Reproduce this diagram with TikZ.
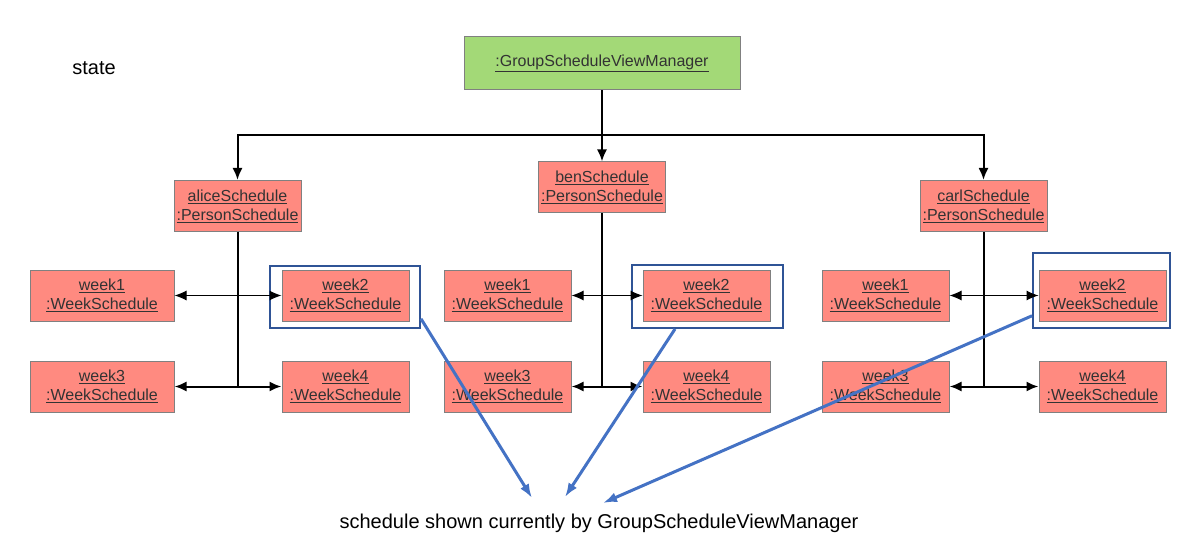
\documentclass[tikz,border=0pt]{standalone}
\usepackage{fontspec}
\setmainfont{Liberation Sans}
\usetikzlibrary{arrows.meta, positioning}
\definecolor{salmon}{RGB}{255,138,128}
\definecolor{mgrgreen}{RGB}{163,217,119}
\definecolor{hlblue}{RGB}{47,84,150}
\definecolor{ptrblue}{RGB}{68,114,196}
\definecolor{txtgray}{RGB}{51,51,51}
\newcommand{\objname}[2]{\underline{#1}\\\underline{#2}}

\begin{document}
\begin{tikzpicture}[x=1pt, y=-1pt,
  box/.style={draw=gray, line width=1pt, text=txtgray, align=center, font=\fontsize{16}{19}\selectfont, inner sep=0pt},
  obj/.style={box, fill=salmon, minimum width=127pt, minimum height=51pt},
  hl/.style={draw=hlblue, line width=2pt, inner sep=0pt},
  con/.style={line width=2pt, -{Latex[length=12pt,width=10pt]}},
  ptr/.style={draw=ptrblue, line width=3pt, -{Latex[length=14pt,width=10pt]}}]
\useasboundingbox (0,0) rectangle (1193,553);

\node[font=\fontsize{20}{24}\selectfont] (st) at (94,68) {state};
\node[box, fill=mgrgreen, minimum width=276pt, minimum height=53pt] (mgr) at (602,63.5) {\underline{:GroupScheduleViewManager}};

\node[obj] (alice) at (237.5,206) {\objname{aliceSchedule}{:PersonSchedule}};
\node[obj] (ben) at (602,187.5) {\objname{benSchedule}{:PersonSchedule}};
\node[obj] (carl) at (983.5,206) {\objname{carlSchedule}{:PersonSchedule}};

% alice
\node[obj, minimum width=144pt] (a1) at (102,295.5) {\objname{week1}{:WeekSchedule}};
\node[obj] (a2) at (345.5,295.5) {\objname{week2}{:WeekSchedule}};
\node[obj, minimum width=144pt, below=39pt of a1] (a3) {\objname{week3}{:WeekSchedule}};
\node[obj, below=39pt of a2] (a4) {\objname{week4}{:WeekSchedule}};
% ben
\node[obj] (b1) at (507.5,295.5) {\objname{week1}{:WeekSchedule}};
\node[obj] (b2) at (706.5,295.5) {\objname{week2}{:WeekSchedule}};
\node[obj, below=39pt of b1] (b3) {\objname{week3}{:WeekSchedule}};
\node[obj, below=39pt of b2] (b4) {\objname{week4}{:WeekSchedule}};
% carl
\node[obj] (c1) at (885.5,295.5) {\objname{week1}{:WeekSchedule}};
\node[obj] (c2) at (1102.5,295.5) {\objname{week2}{:WeekSchedule}};
\node[obj, below=39pt of c1] (c3) {\objname{week3}{:WeekSchedule}};
\node[obj, below=39pt of c2] (c4) {\objname{week4}{:WeekSchedule}};

\node[hl, minimum width=150pt, minimum height=62pt] (h1) at (345,297) {};
\node[hl, minimum width=151pt, minimum height=63pt] (h2) at (707.5,296.5) {};
\node[hl, minimum width=137pt, minimum height=75pt] (h3) at (1101.5,290.5) {};

\node[font=\fontsize{20}{24}\selectfont] (cap) at (599,523) {schedule shown currently by GroupScheduleViewManager};

\coordinate (bus) at (602,135);
\draw[line width=2pt] (mgr) -- (bus);
\draw[con] (bus) -| (alice);
\draw[con] (bus) -- (ben);
\draw[con] (bus) -| (carl);

\coordinate (aj) at (alice |- a3);
\coordinate (bj) at (ben |- b3);
\coordinate (cj) at (carl |- c3);
\draw[line width=2pt] (alice) -- (aj);
\draw[line width=2pt] (ben) -- (bj);
\draw[line width=2pt] (carl) -- (cj);
\draw[con, {Latex[length=12pt,width=10pt]}-{Latex[length=12pt,width=10pt]}, line width=1pt] (a1) -- (a2);
\draw[con, {Latex[length=12pt,width=10pt]}-{Latex[length=12pt,width=10pt]}, line width=1pt] (b1) -- (b2);
\draw[con, {Latex[length=12pt,width=10pt]}-{Latex[length=12pt,width=10pt]}, line width=1pt] (c1) -- (c2);
\draw[con] (aj) -- (a3);
\draw[con] (aj) -- (a4);
\draw[con] (bj) -- (b3);
\draw[con] (bj) -- (b4);
\draw[con] (cj) -- (c3);
\draw[con] (cj) -- (c4);

\coordinate (p1) at (532,498);
\coordinate (p2) at (565,497);
\coordinate (p3) at (603,503);
\draw[ptr] (h1.-16) -- (p1);
\draw[ptr] (h2.-135) -- (p2);
\draw[ptr] (h3.200) -- (p3);
\end{tikzpicture}
\end{document}
